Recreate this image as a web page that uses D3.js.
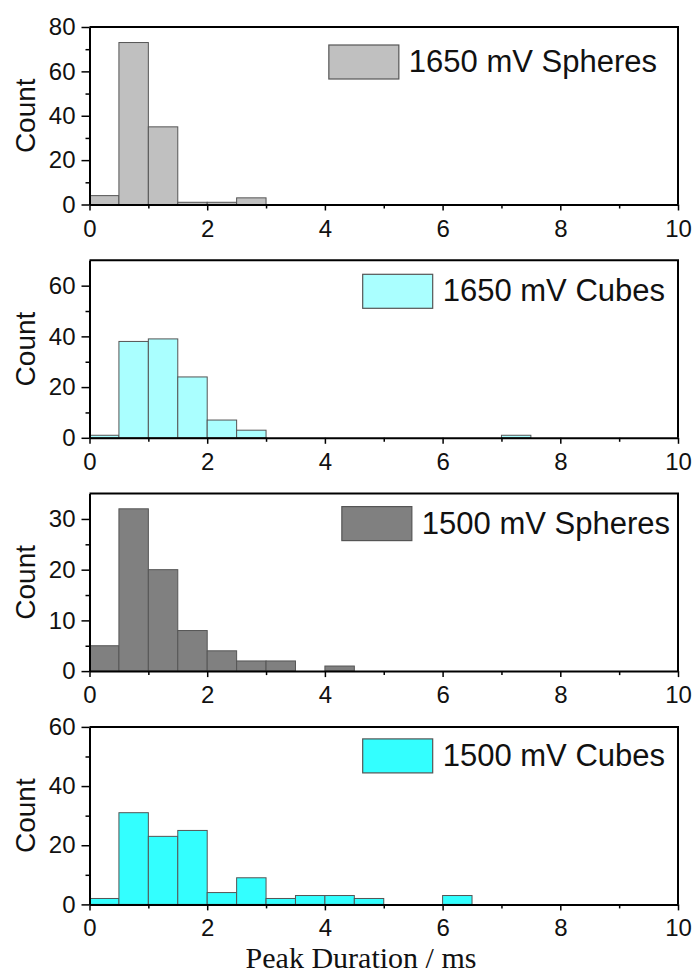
<!DOCTYPE html>
<html>
<head>
<meta charset="utf-8">
<script src="https://cdn.jsdelivr.net/npm/d3@7"></script>
<style>
  body { margin: 0; background: #fff; }
  svg { display: block; }
</style>
</head>
<body>
<div id="chart"></div>
<script>
// Peak duration histograms, four stacked panels

var width = 696;
var height = 975;

// bin starts (ms), each bin is 0.5 ms wide
var binStarts = [0, 0.5, 1, 1.5, 2, 2.5, 3, 3.5, 4, 4.5, 5, 5.5, 6, 6.5, 7, 7.5, 8, 8.5, 9, 9.5];
var binWidth = 0.5;

// counts per bin
var spheres1650 = [4, 73, 35, 1, 1, 3, 0, 0, 0, 0, 0, 0, 0, 0, 0, 0, 0, 0, 0, 0];
var cubes1650   = [1, 38, 39, 24, 7, 3, 0, 0, 0, 0, 0, 0, 0, 0, 1, 0, 0, 0, 0, 0];
var spheres1500 = [5, 32, 20, 8, 4, 2, 2, 0, 1, 0, 0, 0, 0, 0, 0, 0, 0, 0, 0, 0];
var cubes1500   = [2, 31, 23, 25, 4, 9, 2, 3, 3, 2, 0, 0, 3, 0, 0, 0, 0, 0, 0, 0];

var seriesNames = ["1650 mV Spheres", "1650 mV Cubes", "1500 mV Spheres", "1500 mV Cubes"];
var seriesCounts = [spheres1650, cubes1650, spheres1500, cubes1500];
var seriesColors = ["#c0c0c0", "#aaffff", "#808080", "#33ffff"];

// y axis of each panel
var yMax = [80, 70, 35, 60];
var yMajor = [[0, 20, 40, 60, 80], [0, 20, 40, 60], [0, 10, 20, 30], [0, 20, 40, 60]];
var yMinor = [[10, 30, 50, 70], [10, 30, 50], [5, 15, 25], [10, 30, 50]];

var xMajor = [0, 2, 4, 6, 8, 10];
var xMinor = [1, 3, 5, 7, 9];

// layout bits
var plotLeft = 89.5, plotRight = 678;
var panelTop0 = 27, panelStep = 233.3, panelH = 177.5;
var legendRight = [657, 665, 670, 665];
var legendTop = [18, 14, 13, 12];

var svg = d3.select("#chart").append("svg")
    .attr("width", width)
    .attr("height", height);

var x = d3.scaleLinear().domain([0, 10]).range([plotLeft, plotRight]);

seriesNames.forEach(function(name, i) {
    var top = panelTop0 + i * panelStep;
    var bottom = top + panelH;
    var y = d3.scaleLinear().domain([0, yMax[i]]).range([bottom, top]);
    var g = svg.append("g");

    var data = binStarts.map(function(b, k) { return { x0: b, x1: b + binWidth, n: seriesCounts[i][k] }; })
        .filter(function(d) { return d.n > 0; });

    // bars
    g.selectAll("rect.bar")
        .data(data)
        .enter()
        .append("rect")
        .attr("class", "bar")
        .attr("x", function(d) { return x(d.x0); })
        .attr("width", function(d) { return x(d.x1) - x(d.x0); })
        .attr("y", function(d) { return y(d.n); })
        .attr("height", function(d) { return y(0) - y(d.n); })
        .attr("fill", seriesColors[i])
        .attr("stroke", "#555")
        .attr("stroke-width", 1);

    // frame top / right
    g.append("path")
        .attr("d", "M" + plotLeft + "," + top + "H" + plotRight + "V" + bottom)
        .attr("fill", "none")
        .attr("stroke", "#000")
        .attr("stroke-width", 2);

    // minor ticks
    g.append("g")
        .attr("transform", "translate(0," + bottom + ")")
        .call(d3.axisBottom(x).tickValues(xMinor).tickSize(4).tickSizeOuter(0).tickFormat(""))
        .call(function(a) { a.select(".domain").remove(); a.selectAll("line").attr("stroke-width", 1.5); });
    g.append("g")
        .attr("transform", "translate(" + plotLeft + ",0)")
        .call(d3.axisLeft(y).tickValues(yMinor[i]).tickSize(4).tickSizeOuter(0).tickFormat(""))
        .call(function(a) { a.select(".domain").remove(); a.selectAll("line").attr("stroke-width", 1.5); });

    // major axes
    var xa = g.append("g")
        .attr("transform", "translate(0," + bottom + ")")
        .call(d3.axisBottom(x).tickValues(xMajor).tickSize(6).tickSizeOuter(0).tickPadding(9).tickFormat(d3.format("d")));
    var ya = g.append("g")
        .attr("transform", "translate(" + plotLeft + ",0)")
        .call(d3.axisLeft(y).tickValues(yMajor[i]).tickSize(8).tickSizeOuter(0).tickPadding(6).tickFormat(d3.format("d")));
    [xa, ya].forEach(function(a) {
        a.select(".domain").attr("stroke-width", 2);
        a.selectAll("line").attr("stroke-width", 1.5);
        a.selectAll("text")
            .attr("font-family", "'Liberation Sans', Arial, sans-serif")
            .attr("font-size", 24)
            .attr("fill", "#111");
    });

    // y label
    g.append("text")
        .attr("transform", "translate(35," + (top + bottom) / 2 + ") rotate(-90)")
        .attr("text-anchor", "middle")
        .attr("font-family", "'Liberation Sans', Arial, sans-serif")
        .attr("font-size", 28)
        .attr("fill", "#111")
        .text("Count");

    // legend
    var lt = g.append("text")
        .attr("x", legendRight[i])
        .attr("y", top + legendTop[i] + 27)
        .attr("text-anchor", "end")
        .attr("font-family", "'Liberation Sans', Arial, sans-serif")
        .attr("font-size", 31)
        .attr("fill", "#111")
        .text(name);
    var tw = lt.node().getComputedTextLength();
    g.append("rect")
        .attr("x", legendRight[i] - tw - 10 - 70)
        .attr("y", top + legendTop[i])
        .attr("width", 70)
        .attr("height", 34)
        .attr("fill", seriesColors[i])
        .attr("stroke", "#555")
        .attr("stroke-width", 1.2);
});

// x label
svg.append("text")
    .attr("x", 361)
    .attr("y", 968)
    .attr("text-anchor", "middle")
    .attr("font-family", "'Liberation Serif', 'Times New Roman', serif")
    .attr("font-size", 30)
    .attr("fill", "#111")
    .text("Peak Duration / ms");
</script>
</body>
</html>
